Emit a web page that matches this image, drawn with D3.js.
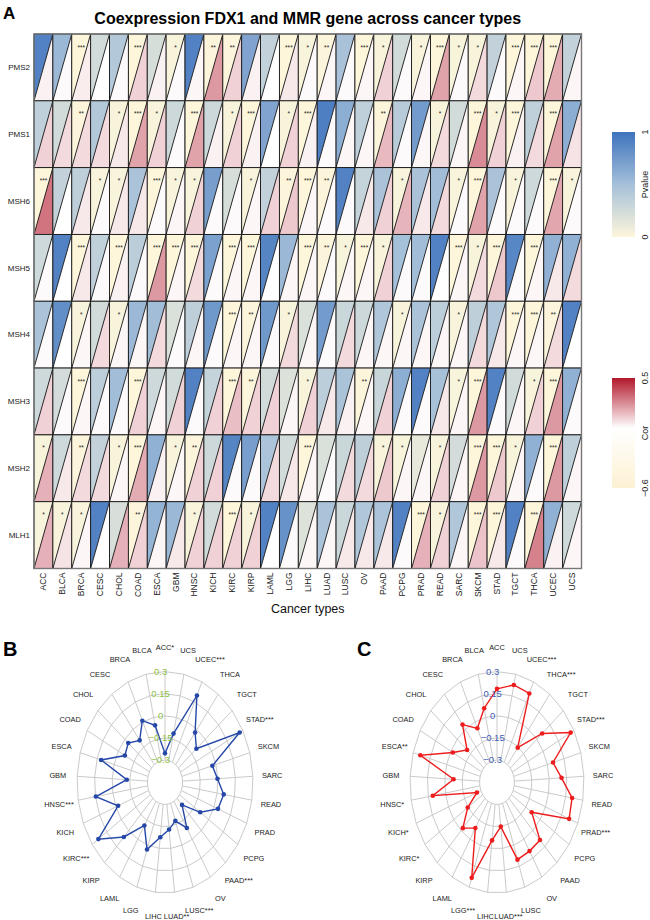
<!DOCTYPE html>
<html><head><meta charset="utf-8">
<script src="https://cdn.jsdelivr.net/npm/d3@7"></script>
<style>
html,body{margin:0;padding:0;background:#fff;}
svg{display:block;font-family:"Liberation Sans",Arial,sans-serif;}
</style></head>
<body>
<svg id="chart" width="650" height="920"></svg>
<script>
// ---------- DATA ----------
const cancers = ["ACC","BLCA","BRCA","CESC","CHOL","COAD","ESCA","GBM","HNSC","KICH","KIRC","KIRP","LAML","LGG","LIHC","LUAD","LUSC","OV","PAAD","PCPG","PRAD","READ","SARC","SKCM","STAD","TGCT","THCA","UCEC","UCS"];
const genes = ["PMS2","PMS1","MSH6","MSH5","MSH4","MSH3","MSH2","MLH1"];

const pvalPMS2 = [0.9,0.55,0.0005,0.25,0.42,0.0005,0.22,0.03,0.9,0.005,0.005,0.68,0.33,0.0005,0.03,0.005,0.48,0.0005,0.03,0.25,0.03,0.0005,0.03,0.03,0.33,0.0005,0.0005,0.0005,0.33];
const corPMS2  = [0.03,0.01,0.04,0.0,0.01,0.1,0.03,0.01,0.02,0.22,0.1,0.03,0.0,0.05,0.01,0.02,0.01,0.02,0.1,0.01,0.02,0.2,0.01,0.08,0.01,0.02,0.12,0.18,0.02];
const pvalPMS1 = [0.35,0.25,0.005,0.42,0.03,0.0005,0.03,0.28,0.0005,0.28,0.03,0.0005,0.68,0.03,0.0005,0.92,0.62,0.35,0.005,0.4,0.74,0.03,0.25,0.0005,0.03,0.0005,0.35,0.0005,0.62];
const corPMS1  = [0.1,0.08,0.08,0.08,0.05,0.2,0.1,0.01,0.2,0.03,0.1,0.03,0.0,0.1,0.03,0.01,0.02,0.02,0.15,0.01,0.02,0.08,0.02,0.25,0.1,0.03,0.08,0.2,0.06];
const pvalMSH6 = [0.0005,0.33,0.36,0.03,0.03,0.47,0.0005,0.03,0.03,0.72,0.22,0.03,0.33,0.005,0.0005,0.005,0.9,0.32,0.47,0.03,0.47,0.52,0.03,0.0005,0.47,0.03,0.27,0.0005,0.03];
const corMSH6  = [0.3,0.0,0.05,0.01,0.05,0.05,0.01,0.02,0.1,0.01,0.01,0.02,0.1,0.12,0.02,0.01,0.01,0.05,0.1,0.16,0.05,0.08,0.01,0.2,0.01,0.01,0.01,0.19,0.01];
const pvalMSH5 = [0.27,0.9,0.0005,0.34,0.0005,0.38,0.0005,0.0005,0.0005,0.7,0.0005,0.0005,0.88,0.55,0.0005,0.005,0.03,0.0005,0.03,0.5,0.52,0.9,0.0005,0.03,0.0005,0.87,0.0005,0.6,0.6];
const corMSH5  = [0.01,0.0,0.05,0.01,0.03,0.01,0.22,0.02,0.08,0.01,0.02,0.02,0.0,0.02,0.02,0.01,0.02,0.02,0.1,0.01,0.01,0.0,0.02,0.08,0.12,0.01,0.02,0.05,0.08];
const pvalMSH4 = [0.47,0.82,0.03,0.25,0.03,0.55,0.52,0.2,0.36,0.76,0.0005,0.005,0.76,0.03,0.2,0.74,0.29,0.28,0.44,0.03,0.47,0.37,0.03,0.36,0.44,0.0005,0.0005,0.005,0.9];
const corMSH4  = [0.01,0.0,0.02,0.08,0.02,0.02,0.08,0.01,0.02,0.01,0.02,0.02,0.01,0.08,0.02,0.01,0.08,0.02,0.02,0.02,0.02,0.02,0.02,0.08,0.05,0.02,0.02,0.08,0.0];
const pvalMSH3 = [0.27,0.24,0.0005,0.37,0.52,0.0005,0.27,0.25,0.9,0.32,0.0005,0.005,0.25,0.19,0.03,0.37,0.47,0.005,0.3,0.62,0.9,0.49,0.03,0.0005,0.9,0.25,0.03,0.0005,0.6];
const corMSH3  = [0.1,0.01,0.02,0.01,0.01,0.1,0.02,0.1,0.01,0.1,0.14,0.1,0.1,0.02,0.1,0.05,0.03,0.02,0.1,0.01,0.01,0.05,0.02,0.22,0.01,0.02,0.1,0.22,0.01];
const pvalMSH2 = [0.03,0.27,0.005,0.33,0.03,0.0005,0.6,0.03,0.005,0.28,0.88,0.72,0.46,0.25,0.0005,0.2,0.29,0.36,0.03,0.03,0.12,0.03,0.24,0.0005,0.0005,0.03,0.6,0.0005,0.36];
const corMSH2  = [0.17,0.05,0.08,0.08,0.02,0.18,0.03,0.02,0.1,0.1,0.01,0.01,0.08,0.05,0.02,0.01,0.08,0.08,0.12,0.02,0.02,0.1,0.02,0.22,0.12,0.02,0.01,0.22,0.02];
const pvalMLH1 = [0.03,0.03,0.03,0.9,0.21,0.005,0.58,0.55,0.03,0.25,0.0005,0.03,0.9,0.8,0.18,0.47,0.29,0.44,0.46,0.9,0.0005,0.03,0.44,0.0005,0.0005,0.9,0.0005,0.6,0.27];
const corMLH1  = [0.17,0.06,0.02,0.0,0.17,0.1,0.02,0.05,0.1,0.1,0.1,0.1,0.0,0.01,0.02,0.02,0.05,0.05,0.05,0.01,0.17,0.1,0.02,0.13,0.05,0.01,0.27,0.03,0.02];

const radarLabelsB = ["ACC*","BLCA","BRCA","CESC","CHOL","COAD","ESCA","GBM","HNSC***","KICH","KIRC***","KIRP","LAML","LGG","LIHC","LUAD**","LUSC***","OV","PAAD***","PCPG","PRAD","READ","SARC","SKCM","STAD***","TGCT","THCA","UCEC***","UCS"];
const radarValuesB = [-0.254,-0.055,0.01,-0.093,-0.039,-0.063,0.115,-0.124,0.147,-0.02,0.236,0.06,-0.109,0.03,-0.076,-0.128,-0.174,-0.089,-0.239,-0.088,0.036,0.057,-0.002,-0.031,0.27,-0.099,-0.026,0.198,-0.112];
const radarLabelsC = ["ACC","BLCA","BRCA","CESC","CHOL","COAD","ESCA**","GBM","HNSC*","KICH*","KIRC*","KIRP","LAML","LGG***","LIHC","LUAD***","LUSC","OV","PAAD","PCPG","PRAD***","READ","SARC","SKCM","STAD***","TGCT","THCA***","UCEC***","UCS"];
const radarValuesC = [0.183,0.064,-0.047,0.041,-0.112,-0.019,0.236,-0.075,0.111,-0.264,-0.145,-0.022,-0.088,0.233,-0.054,-0.148,0.103,0.094,0.089,-0.089,0.219,0.206,0.107,0.051,0.269,0.061,-0.155,0.213,0.225];
const radarTicks = [-0.3,-0.15,0,0.15,0.3];
const radarTickLabels = ["-0.3","-0.15","0","0.15","0.3"];

const pvalueLegendTicks = [0,1];
const corLegendTicks = [-0.6,0.5];

// ---------- BUILD ----------
const pvals = {PMS2:pvalPMS2,PMS1:pvalPMS1,MSH6:pvalMSH6,MSH5:pvalMSH5,MSH4:pvalMSH4,MSH3:pvalMSH3,MSH2:pvalMSH2,MLH1:pvalMLH1};
const cors  = {PMS2:corPMS2,PMS1:corPMS1,MSH6:corMSH6,MSH5:corMSH5,MSH4:corMSH4,MSH3:corMSH3,MSH2:corMSH2,MLH1:corMLH1};
const cells = [];
genes.forEach(g => cancers.forEach((c,i) => cells.push({gene:g,cancer:c,p:pvals[g][i],r:cors[g][i]})));
const stars = p => p < 0.001 ? "***" : p < 0.01 ? "**" : p < 0.05 ? "*" : "";

const svg = d3.select("#chart");

// ---------- PANEL A ----------
const hx0 = 34, hx1 = 581.5, hy0 = 34, hy1 = 568.5;
const x = d3.scaleBand().domain(cancers).range([hx0,hx1]);
const y = d3.scaleBand().domain(genes).range([hy0,hy1]);
const pColor = d3.scaleLinear().domain([0,0.5,1]).range(["#FDF6DB","#A5C0D9","#3D73BE"]).interpolate(d3.interpolateRgb);
const rColor = d3.scaleLinear().domain([-0.6,0,0.5]).range(["#FCF1D2","#FFFFFF","#B2182B"]).interpolate(d3.interpolateRgb);

svg.append("text").attr("x",3).attr("y",19).attr("font-size",17).attr("font-weight","bold").text("A");
svg.append("text").attr("x",(hx0+hx1)/2).attr("y",24).attr("text-anchor","middle")
  .attr("font-size",16).attr("font-weight","bold").text("Coexpression FDX1 and MMR gene across cancer types");

const w = x.bandwidth(), h = y.bandwidth();
const gCells = svg.append("g");
const cg = gCells.selectAll("g.cell").data(cells).join("g").attr("class","cell")
  .attr("transform",d=>`translate(${x(d.cancer)},${y(d.gene)})`);
cg.append("path").attr("d",`M0,0L${w},0L0,${h}Z`).attr("fill",d=>pColor(d.p));
cg.append("path").attr("d",`M${w},0L${w},${h}L0,${h}Z`).attr("fill",d=>rColor(d.r));
cg.append("rect").attr("width",w).attr("height",h).attr("fill","none").attr("stroke","#1a1a1a").attr("stroke-width",0.9);
cg.append("line").attr("x1",0).attr("y1",h).attr("x2",w).attr("y2",0).attr("stroke","#111").attr("stroke-width",0.9);
cg.append("text").attr("x",w/2).attr("y",15.5).attr("text-anchor","middle").attr("font-size",6.5).attr("fill","#222").text(d=>stars(d.p));
svg.append("rect").attr("x",hx0).attr("y",hy0).attr("width",hx1-hx0).attr("height",hy1-hy0)
  .attr("fill","none").attr("stroke","#777").attr("stroke-width",1.4);

// row labels
svg.append("g").selectAll("text").data(genes).join("text")
  .attr("x",hx0-4).attr("y",d=>y(d)+h/2).attr("dy","0.35em").attr("text-anchor","end")
  .attr("font-size",8).attr("fill","#222").text(d=>d);
// column labels
svg.append("g").selectAll("text").data(cancers).join("text")
  .attr("transform",d=>`translate(${x(d)+w/2},${hy1+4}) rotate(-90)`).attr("dy","0.35em")
  .attr("text-anchor","end").attr("font-size",8.5).attr("fill","#222").text(d=>d);
svg.append("text").attr("x",(hx0+hx1)/2).attr("y",613).attr("text-anchor","middle").attr("font-size",12.5).attr("fill","#111").text("Cancer types");

// legends
const defs = svg.append("defs");
function legend(id, top, bottom, scale, domain, stops, title, tickLabels){
  const gr = defs.append("linearGradient").attr("id",id).attr("x1",0).attr("y1",1).attr("x2",0).attr("y2",0);
  stops.forEach(v => gr.append("stop").attr("offset",(v-domain[0])/(domain[1]-domain[0])).attr("stop-color",scale(v)));
  svg.append("rect").attr("x",612).attr("y",top).attr("width",23).attr("height",bottom-top).attr("fill",`url(#${id})`);
  const ly = d3.scaleLinear().domain(domain).range([bottom,top]);
  svg.append("g").selectAll("text").data(tickLabels).join("text")
    .attr("transform",d=>`translate(645,${ly(d)}) rotate(-90)`).attr("text-anchor","middle").attr("dy","0.35em")
    .attr("font-size",9).attr("fill","#222").text(d=>d<0?"\u2212"+Math.abs(d):d);
  svg.append("text").attr("transform",`translate(645,${(top+bottom)/2}) rotate(-90)`).attr("text-anchor","middle").attr("dy","0.35em")
    .attr("font-size",9).attr("fill","#222").text(title);
}
legend("gp",132,237,pColor,[0,1],d3.range(0,1.001,0.1),"Pvalue",pvalueLegendTicks);
legend("gr",378,488,rColor,[-0.6,0.5],d3.range(-0.6,0.501,0.05),"Cor",corLegendTicks);

// ---------- RADAR PANELS ----------
function radar(cx, cy, rx, ry, labels, values, lineColor, tickColor, letter, lx){
  svg.append("text").attr("x",lx).attr("y",656).attr("font-size",20).attr("font-weight","bold").text(letter);
  const n = labels.length;
  const ang = d3.scaleLinear().domain([0,n]).range([Math.PI/2, Math.PI/2 + 2*Math.PI]);
  const rad = d3.scaleLinear().domain([-0.3,0.3]).range([0.2,1]);
  const px = (i,f) => cx + rx*f*Math.cos(ang(i));
  const py = (i,f) => cy - ry*f*Math.sin(ang(i));
  const g = svg.append("g");
  const idx = d3.range(n);
  g.selectAll("path.ring").data(radarTicks).join("path").attr("class","ring")
    .attr("d",t=> d3.line()(idx.map(i=>[px(i,rad(t)),py(i,rad(t))])) + "Z")
    .attr("fill","none").attr("stroke","#c4c4c4").attr("stroke-width",0.9);
  g.selectAll("line.spoke").data(idx).join("line").attr("class","spoke")
    .attr("x1",i=>px(i,rad(-0.3))).attr("y1",i=>py(i,rad(-0.3)))
    .attr("x2",i=>px(i,rad(0.3))).attr("y2",i=>py(i,rad(0.3)))
    .attr("stroke","#c4c4c4").attr("stroke-width",0.9);
  g.append("path").attr("d", d3.line()(values.map((v,i)=>[px(i,rad(v)),py(i,rad(v))])) + "Z")
    .attr("fill","none").attr("stroke",lineColor).attr("stroke-width",1.4);
  g.selectAll("circle").data(values).join("circle")
    .attr("cx",(v,i)=>px(i,rad(v))).attr("cy",(v,i)=>py(i,rad(v))).attr("r",2.3).attr("fill",lineColor);
  g.selectAll("text.tick").data(radarTicks).join("text").attr("class","tick")
    .attr("x",cx-0.05*rx).attr("y",t=>cy-ry*rad(t)).attr("dy","0.35em").attr("text-anchor","middle")
    .attr("font-size",9.5).attr("fill",tickColor).text((t,i)=>radarTickLabels[i].replace("-","\u2212"));
  g.selectAll("text.lab").data(labels).join("text").attr("class","lab")
    .attr("x",(l,i)=>px(i,1.22)).attr("y",(l,i)=>py(i,1.22)).attr("dy","0.35em").attr("text-anchor","middle")
    .attr("font-size",7.4).attr("fill","#222").text(l=>l);
}
radar(165, 782.3, 88, 110.7, radarLabelsB, radarValuesB, "#2447A8", "#8DC23F", "B", 3);
radar(497, 782.3, 87, 110.7, radarLabelsC, radarValuesC, "#EE1C1C", "#4460B5", "C", 357);
</script>
</body></html>
